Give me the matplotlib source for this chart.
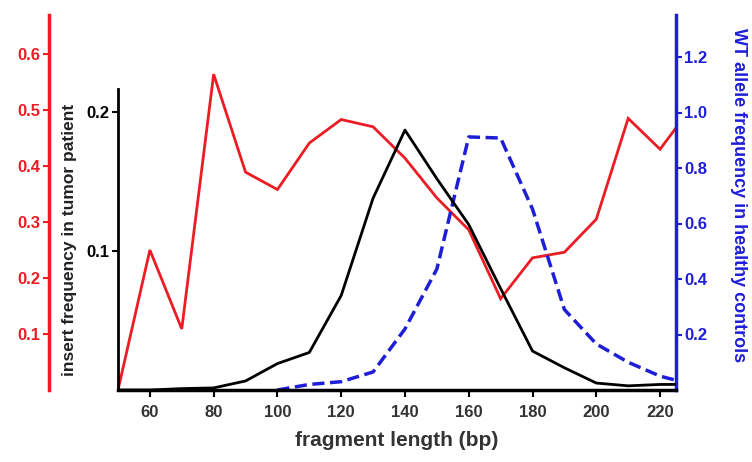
import matplotlib
matplotlib.use("Agg")
import matplotlib.pyplot as plt

plt.rcParams['font.family'] = ['Liberation Sans', 'DejaVu Sans']
plt.rcParams['font.weight'] = 'bold'

# fragment lengths (bp)
lengths = [50, 60, 70, 80, 90, 100, 110, 120, 130, 140, 150, 160, 170, 180, 190, 200, 210, 220, 225]
# red series (left outer axis)
red_vals = [0.0, 0.25, 0.109, 0.564, 0.389, 0.358, 0.441, 0.483, 0.47, 0.414, 0.343, 0.286, 0.163,
            0.236, 0.246, 0.305, 0.485, 0.43, 0.468]
# black series: insert frequency in tumor patient
black_vals = [0.0, 0.0, 0.001, 0.0015, 0.0065, 0.019, 0.027, 0.068, 0.138, 0.187, 0.152, 0.119,
              0.073, 0.028, 0.016, 0.005, 0.003, 0.004, 0.004]
# blue series: WT allele frequency in healthy controls
blue_lengths = [100, 110, 120, 130, 140, 150, 160, 170, 180, 190, 200, 210, 220, 225]
blue_vals = [0.0, 0.02, 0.03, 0.065, 0.22, 0.436, 0.912, 0.908, 0.652, 0.29, 0.166, 0.10, 0.05, 0.035]

xticks = [60, 80, 100, 120, 140, 160, 180, 200, 220]
black_ticks = [0.1, 0.2]
red_ticks = [0.1, 0.2, 0.3, 0.4, 0.5, 0.6]
blue_ticks = [0.2, 0.4, 0.6, 0.8, 1.0, 1.2]

RED = '#ec1c24'
BLUE = '#1e1ed6'
DARK = '#333333'

fig = plt.figure(figsize=(7.52, 4.62), dpi=100)
ax = fig.add_axes([118/752, 1-390/462, (676-118)/752, (390-15)/462])
ax_red = ax.twinx()
ax_blue = ax.twinx()

# red axis on outer left
ax_red.plot(lengths, red_vals, color=RED, lw=2.0, solid_joinstyle='miter')
ax_red.set_ylim(0, 375/560)
ax_red.yaxis.set_ticks_position('left')
ax_red.yaxis.set_label_position('left')
for s in ['top', 'right', 'bottom']:
    ax_red.spines[s].set_visible(False)
ax_red.spines['left'].set_visible(True)
ax_red.spines['left'].set_position(('outward', 50))
ax_red.spines['left'].set_color(RED)
ax_red.spines['left'].set_linewidth(2.5)
ax_red.set_yticks(red_ticks)
ax_red.set_yticklabels([f"{v:.1f}" for v in red_ticks])
ax_red.tick_params(axis='y', colors=RED, labelsize=12, length=4, width=1.5, pad=2)

# black main axis
ax.plot(lengths, black_vals, color='black', lw=2.0, zorder=3)
ax.set_xlim(50, 225)
ax.set_ylim(0, 375/1390)
ax.spines['top'].set_visible(False)
ax.spines['right'].set_visible(False)
ax.spines['left'].set_bounds(0, 0.2165)
ax.spines['left'].set_linewidth(2.0)
ax.spines['bottom'].set_linewidth(2.5)
ax.set_yticks(black_ticks)
ax.set_yticklabels([f"{v:.1f}" for v in black_ticks])
ax.tick_params(axis='y', colors='black', labelsize=12, length=4, width=1.5, pad=2)
ax.set_xticks(xticks)
ax.tick_params(axis='x', colors='black', labelcolor=DARK, labelsize=12, length=5, width=1.5, pad=6)
ax.set_ylabel('insert frequency in tumor patient', fontsize=12.5, fontweight='bold', color='#222222')
ax.yaxis.set_label_coords(-0.074, 0.40)
ax.set_xlabel('fragment length (bp)', fontsize=15, fontweight='bold', color=DARK, labelpad=8)

# blue right axis
ax_blue.plot(blue_lengths, blue_vals, color=BLUE, lw=2.5, ls=(0, (3.5, 1.6)))
ax_blue.set_ylim(0, 375/277.5)
for s in ['top', 'left', 'bottom']:
    ax_blue.spines[s].set_visible(False)
ax_blue.spines['right'].set_color(BLUE)
ax_blue.spines['right'].set_linewidth(2.5)
ax_blue.set_yticks(blue_ticks)
ax_blue.set_yticklabels([f"{v:.1f}" for v in blue_ticks])
ax_blue.tick_params(axis='y', colors=BLUE, labelsize=12, length=4, width=1.5, pad=2)
ax_blue.set_ylabel('WT allele frequency in healthy controls', fontsize=13, fontweight='bold',
                   color=BLUE, rotation=270)
ax_blue.yaxis.set_label_coords(1.128, 0.52)

for a in (ax, ax_red, ax_blue):
    a.patch.set_visible(False)
ax.set_zorder(ax_blue.get_zorder() + 1)

fig.savefig('out.png', dpi=100)
